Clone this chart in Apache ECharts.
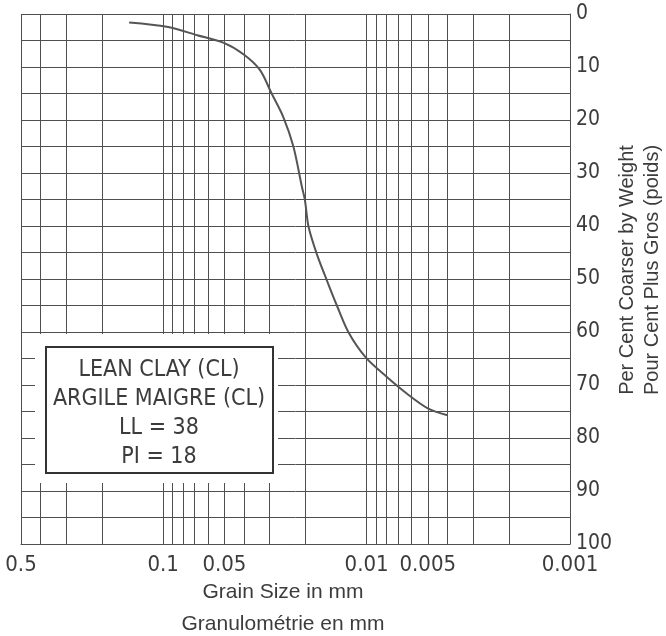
<!DOCTYPE html>
<html>
<head>
<meta charset="utf-8">
<script src="https://cdn.jsdelivr.net/npm/echarts@6/dist/echarts.min.js"></script>
<style>
    html, body { margin: 0; padding: 0; background: #fff; }
    #chart { width: 666px; height: 636px; }
</style>
</head>
<body>
<div id="chart"></div>
<script>
// grain size curve (mm) and per cent coarser by weight
var grainSize = [0.147, 0.096, 0.068, 0.05, 0.04, 0.0334, 0.0293, 0.0257, 0.0229, 0.0208, 0.0201, 0.0193, 0.0176, 0.0157, 0.0140, 0.0123, 0.0101, 0.0080, 0.00635, 0.0050, 0.0040];
var percentCoarser = [1.6, 2.4, 4.0, 5.5, 7.7, 10.6, 15.0, 19.4, 25.0, 32.6, 35.1, 40.1, 45.2, 50.2, 55.0, 60.0, 64.8, 68.4, 71.6, 74.4, 75.7];

// log grid lines and labelled sizes
var gridSizes = [0.5, 0.4, 0.3, 0.2, 0.1, 0.09, 0.08, 0.07, 0.06, 0.05, 0.04, 0.03, 0.02,
    0.01, 0.009, 0.008, 0.007, 0.006, 0.005, 0.004, 0.003, 0.002, 0.001];
var labelSizes = [0.5, 0.1, 0.05, 0.01, 0.005, 0.001];

var boxLines = ['LEAN CLAY (CL)', 'ARGILE MAIGRE (CL)', 'LL = 38', 'PI = 18'];

var lineColor = '#4f4f4f';
var textColor = '#3c3c3c';
var narrow = '"Liberation Sans Narrow", "DejaVu Sans Condensed", sans-serif';

var chart = echarts.init(document.getElementById('chart'));

var seriesData = [];
for (var i = 0; i < grainSize.length; i++) {
    seriesData.push([Math.log10(grainSize[i]), percentCoarser[i]]);
}

var option = {
    animation: false,
    backgroundColor: '#fff',
    grid: {
        left: 21,
        right: 96,
        top: 14,
        bottom: 92,
        containLabel: false,
        outerBoundsMode: 'none'
    },
    xAxis: {
        type: 'value',
        inverse: true,
        min: -3,
        max: Math.log10(0.5),
        name: 'Grain Size in mm\nGranulométrie en mm',
        nameLocation: 'middle',
        nameGap: 32,
        nameMoveOverlap: false,
        nameTextStyle: {
            fontFamily: '"Liberation Sans", sans-serif',
            fontSize: 21,
            lineHeight: 32,
            color: textColor,
            padding: [0, 25, 0, 0]
        },
        axisLine: { show: true, onZero: false, lineStyle: { color: lineColor, width: 1 } },
        axisTick: {
            show: false,
            customValues: gridSizes.map(function (v) { return Math.log10(v); })
        },
        axisLabel: {
            customValues: labelSizes.map(function (v) { return Math.log10(v); }),
            formatter: function (v) {
                return String(parseFloat(Math.pow(10, v).toPrecision(2)));
            },
            margin: 10,
            fontSize: 22,
            fontFamily: narrow,
            color: textColor
        },
        splitLine: { show: true, lineStyle: { color: lineColor, width: 1 } }
    },
    yAxis: {
        type: 'value',
        position: 'right',
        inverse: true,
        min: 0,
        max: 100,
        interval: 10,
        name: 'Per Cent Coarser by Weight\nPour Cent Plus Gros (poids)',
        nameLocation: 'middle',
        nameRotate: 90,
        nameGap: 45,
        nameMoveOverlap: false,
        nameTextStyle: {
            fontFamily: '"Liberation Sans", sans-serif',
            fontSize: 20,
            lineHeight: 25,
            color: textColor,
            padding: [0, 0, 0, 18]
        },
        axisLine: { show: true, onZero: false, lineStyle: { color: lineColor, width: 1 } },
        axisTick: { show: false },
        minorTick: { show: false, splitNumber: 2 },
        axisLabel: {
            margin: 6,
            fontSize: 21,
            fontFamily: narrow,
            color: textColor
        },
        splitLine: { show: true, lineStyle: { color: lineColor, width: 1 } },
        minorSplitLine: { show: true, lineStyle: { color: lineColor, width: 1 } }
    },
    graphic: [
        {
            type: 'rect',
            z: 100,
            shape: { x: 35, y: 334, width: 243, height: 149 },
            style: { fill: '#fff' }
        },
        {
            type: 'rect',
            z: 101,
            shape: { x: 46, y: 347, width: 227, height: 126 },
            style: { fill: '#fff', stroke: '#333', lineWidth: 2 }
        },
        {
            type: 'text',
            z: 102,
            x: 159,
            y: 414,
            style: {
                text: boxLines.join('\n'),
                fontFamily: narrow,
                fontSize: 23,
                lineHeight: 29,
                fill: textColor,
                align: 'center',
                verticalAlign: 'middle'
            }
        }
    ],
    series: [{
        type: 'line',
        data: seriesData,
        smooth: 0.3,
        showSymbol: false,
        lineStyle: { color: '#555', width: 2 },
        z: 5
    }]
};
chart.setOption(option);
</script>
</body>
</html>
